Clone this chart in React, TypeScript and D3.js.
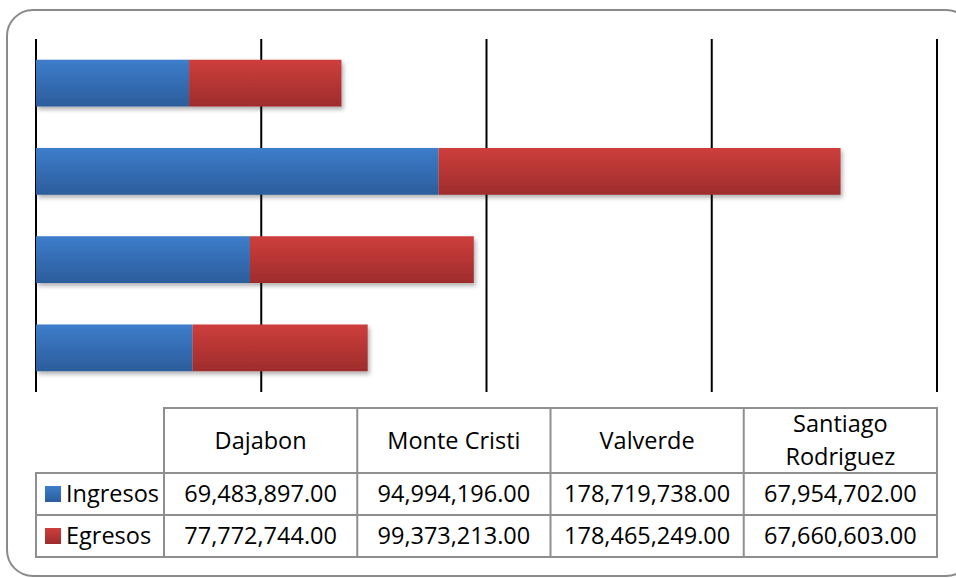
import React from 'react'
import * as d3 from 'd3'

// categories in table order (left to right)
const provinces = ['Dajabon', 'Monte Cristi', 'Valverde', 'Santiago Rodriguez']
const ingresos = [69483897, 94994196, 178719738, 67954702]
const egresos = [77772744, 99373213, 178465249, 67660603]
const seriesNames = ['Ingresos', 'Egresos']
const xTicks = [0, 100e6, 200e6, 300e6, 400e6]

const W = 956
const H = 578
const FONT = '"Open Sans", "Noto Sans", sans-serif'

const fmt = (v: number) => d3.format(',.2f')(v)

export default function App() {
  const x = d3.scaleLinear().domain([0, 400e6]).range([36, 937])
  // Excel draws the first category at the bottom
  const y = d3.scaleBand()
    .domain(provinces.slice().reverse())
    .range([39, 392])
    .paddingInner(0.47)
    .paddingOuter(0.235)
  const col = d3.scaleBand().domain(provinces).range([164, 937])

  const rows = provinces.map((p, i) => ({ p, a: ingresos[i], b: egresos[i] }))
  const values = [ingresos, egresos]
  const fills = ['url(#gBlue)', 'url(#gRed)']

  const headTop = 408
  const rowTop = [473, 515]
  const rowBottom = 557
  const gridColor = '#8f8f8f'

  return (
    <svg width={W} height={H} style={{ position: 'absolute', left: 0, top: 0 }}>
      <defs>
        <linearGradient id="gBlue" x1="0" y1="0" x2="0" y2="1">
          <stop offset="0%" stopColor="#3d7dcb" />
          <stop offset="100%" stopColor="#2c5d9b" />
        </linearGradient>
        <linearGradient id="gRed" x1="0" y1="0" x2="0" y2="1">
          <stop offset="0%" stopColor="#ce3e3c" />
          <stop offset="100%" stopColor="#9e2c2c" />
        </linearGradient>
        <filter id="shadow" x="-5%" y="-20%" width="110%" height="160%">
          <feDropShadow dx="2" dy="3" stdDeviation="2" floodColor="#000" floodOpacity="0.3" />
        </filter>
      </defs>
      <rect width={W} height={H} fill="#fff" />
      <rect x={7} y={10} width={965} height={566} rx={26} fill="#fff" stroke="#8a8a8a" strokeWidth={2} />

      {xTicks.map((t) => (
        <line key={t} x1={x(t)} x2={x(t)} y1={39} y2={392} stroke="#000" strokeWidth={2} />
      ))}

      {rows.map((r) => (
        <g key={r.p} filter="url(#shadow)">
          <rect x={x(0)} y={y(r.p)} width={x(r.a) - x(0)} height={y.bandwidth()} fill="url(#gBlue)" />
          <rect x={x(r.a)} y={y(r.p)} width={x(r.a + r.b) - x(r.a)} height={y.bandwidth()} fill="url(#gRed)" />
        </g>
      ))}

      {/* data table */}
      <g fontFamily={FONT} fontSize={23.5} fill="#000">
        <rect x={col.range()[0]} y={headTop} width={col.range()[1] - col.range()[0]} height={rowBottom - headTop}
          fill="none" stroke={gridColor} strokeWidth={2} />
        <rect x={36} y={rowTop[0]} width={col.range()[0] - 36} height={rowBottom - rowTop[0]}
          fill="none" stroke={gridColor} strokeWidth={2} />
        {provinces.slice(1).map((p) => (
          <line key={p} x1={col(p)} x2={col(p)} y1={headTop} y2={rowBottom} stroke={gridColor} strokeWidth={2} />
        ))}
        {rowTop.map((t) => (
          <line key={t} x1={36} x2={937} y1={t} y2={t} stroke={gridColor} strokeWidth={2} />
        ))}
        {provinces.map((p) => {
          const cx = (col(p) as number) + col.bandwidth() / 2
          const words = p.split(' ')
          if (p === 'Santiago Rodriguez') {
            return (
              <text key={p} x={cx} textAnchor="middle">
                <tspan x={cx} y={432}>{words[0]}</tspan>
                <tspan x={cx} y={465}>{words[1]}</tspan>
              </text>
            )
          }
          return <text key={p} x={cx} y={449} textAnchor="middle">{p}</text>
        })}
        {seriesNames.map((s, si) => (
          <g key={s}>
            <rect x={45} y={rowTop[si] + 13} width={16} height={16} fill={fills[si]} />
            <text x={66} y={rowTop[si] + 29}>{s}</text>
            {provinces.map((p, i) => (
              <text key={p} x={(col(p) as number) + col.bandwidth() / 2} y={rowTop[si] + 29} textAnchor="middle">
                {fmt(values[si][i])}
              </text>
            ))}
          </g>
        ))}
      </g>
    </svg>
  )
}
